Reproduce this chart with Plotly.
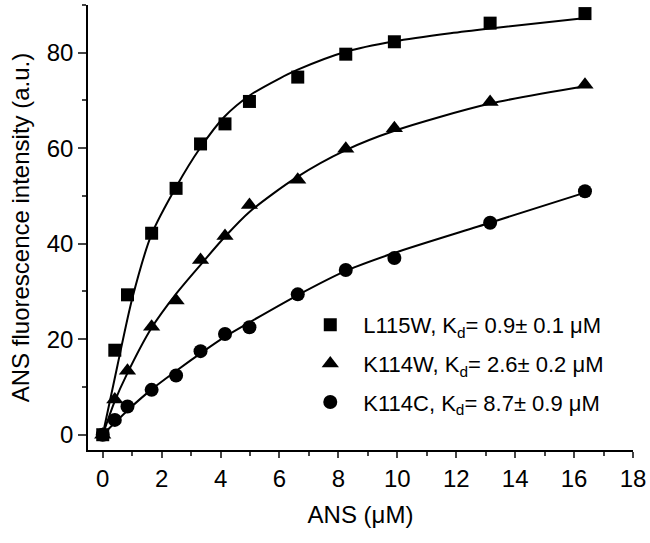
import plotly.graph_objects as go

# ---- data ----
ans_x = [0, 0.41, 0.84, 1.66, 2.49, 3.32, 4.15, 4.98, 6.62, 8.25, 9.9, 13.15, 16.37]

l115w_y = [0, 17.7, 29.3, 42.2, 51.6, 60.9, 65.1, 69.8, 74.9, 79.7, 82.3, 86.2, 88.2]
k114w_y = [0, 7.4, 13.4, 22.6, 28.1, 36.6, 41.6, 48.1, 53.4, 59.9, 64.2, 69.7, 73.3]
k114c_y = [0, 3.1, 5.9, 9.4, 12.4, 17.5, 21.1, 22.5, 29.4, 34.5, 37.0, 44.4, 51.0]

# fitted curves
fit_l115w_x = [0, 0.5, 1.0, 1.66, 2.5, 3.3, 4.13, 5.0, 6.0, 6.6, 8.25, 9.9, 11.8, 13.15, 16.4]
fit_l115w_y = [0, 14.5, 28.5, 42.0, 52.0, 60.0, 66.6, 71.1, 74.6, 76.4, 80.2, 82.4, 84.1, 85.1, 87.3]
fit_k114w_x = [0, 0.4, 0.83, 1.64, 2.49, 3.35, 4.14, 4.97, 6.58, 8.25, 9.88, 13.12, 16.37]
fit_k114w_y = [0, 6.9, 12.8, 22.2, 29.5, 35.8, 41.4, 46.6, 53.9, 59.6, 63.6, 69.3, 73.0]
fit_k114c_x = [0, 0.41, 0.86, 1.68, 2.5, 3.38, 4.14, 4.97, 6.61, 8.25, 9.86, 13.15, 16.37]
fit_k114c_y = [0, 2.5, 5.2, 9.6, 13.4, 17.3, 20.5, 23.5, 29.2, 34.3, 38.0, 44.4, 50.7]

names = ["L115W, K<sub>d</sub>= 0.9± 0.1 μM",
         "K114W, K<sub>d</sub>= 2.6± 0.2 μM",
         "K114C, K<sub>d</sub>= 8.7± 0.9 μM"]
symbols = ["square", "triangle-up", "circle"]
sizes = [13, 15, 14]

x_ticks = [0, 2, 4, 6, 8, 10, 12, 14, 16, 18]
y_ticks = [0, 20, 40, 60, 80]

FONT = "Arial, 'Liberation Sans', Helvetica, sans-serif"

fig = go.Figure()
fits = [(fit_l115w_x, fit_l115w_y), (fit_k114w_x, fit_k114w_y), (fit_k114c_x, fit_k114c_y)]
for fx, fy in fits:
    fig.add_trace(go.Scatter(x=fx, y=fy, mode="lines", line=dict(color="black", width=2, shape="spline", smoothing=0.8),
                             showlegend=False, hoverinfo="skip"))

for i, ys in enumerate([l115w_y, k114w_y, k114c_y]):
    fig.add_trace(go.Scatter(x=ans_x, y=ys, mode="markers", name=names[i], legendgroup=str(i),
                             marker=dict(symbol=symbols[i], size=sizes[i], color="black", line=dict(width=0))))

fig.update_layout(
    width=650, height=543,
    margin=dict(l=88, r=17, t=5, b=93),
    paper_bgcolor="white", plot_bgcolor="white",
    font=dict(family=FONT, color="black", size=22),
    showlegend=True,
    legend=dict(x=0.384, y=0.328, xanchor="left", yanchor="top", bgcolor="rgba(0,0,0,0)",
                font=dict(size=22), tracegroupgap=7, itemwidth=56),
    xaxis=dict(range=[-0.5, 18], tickvals=x_ticks, ticks="outside", ticklen=6, tickwidth=1.5,
               showline=True, linecolor="black", linewidth=1.5, showgrid=False, zeroline=False,
               tickfont=dict(size=24), minor=dict(dtick=1, ticks="outside", ticklen=4, tickwidth=1.5, showgrid=False),
               title=dict(text="ANS (μM)", font=dict(size=24), standoff=16)),
    yaxis=dict(range=[-3.2, 90], tickvals=y_ticks, ticks="outside", ticklen=8, tickwidth=1.5,
               showline=True, linecolor="black", linewidth=1.5, showgrid=False, zeroline=False,
               tickfont=dict(size=24), minor=dict(dtick=10, ticks="outside", ticklen=4, tickwidth=1.5, showgrid=False),
               title=dict(text="ANS fluorescence intensity (a.u.)", font=dict(size=24), standoff=10)),
)

fig.write_html("out.html", config={"displayModeBar": False},
               post_script="document.body.style.margin='0';document.body.style.overflow='hidden';")
